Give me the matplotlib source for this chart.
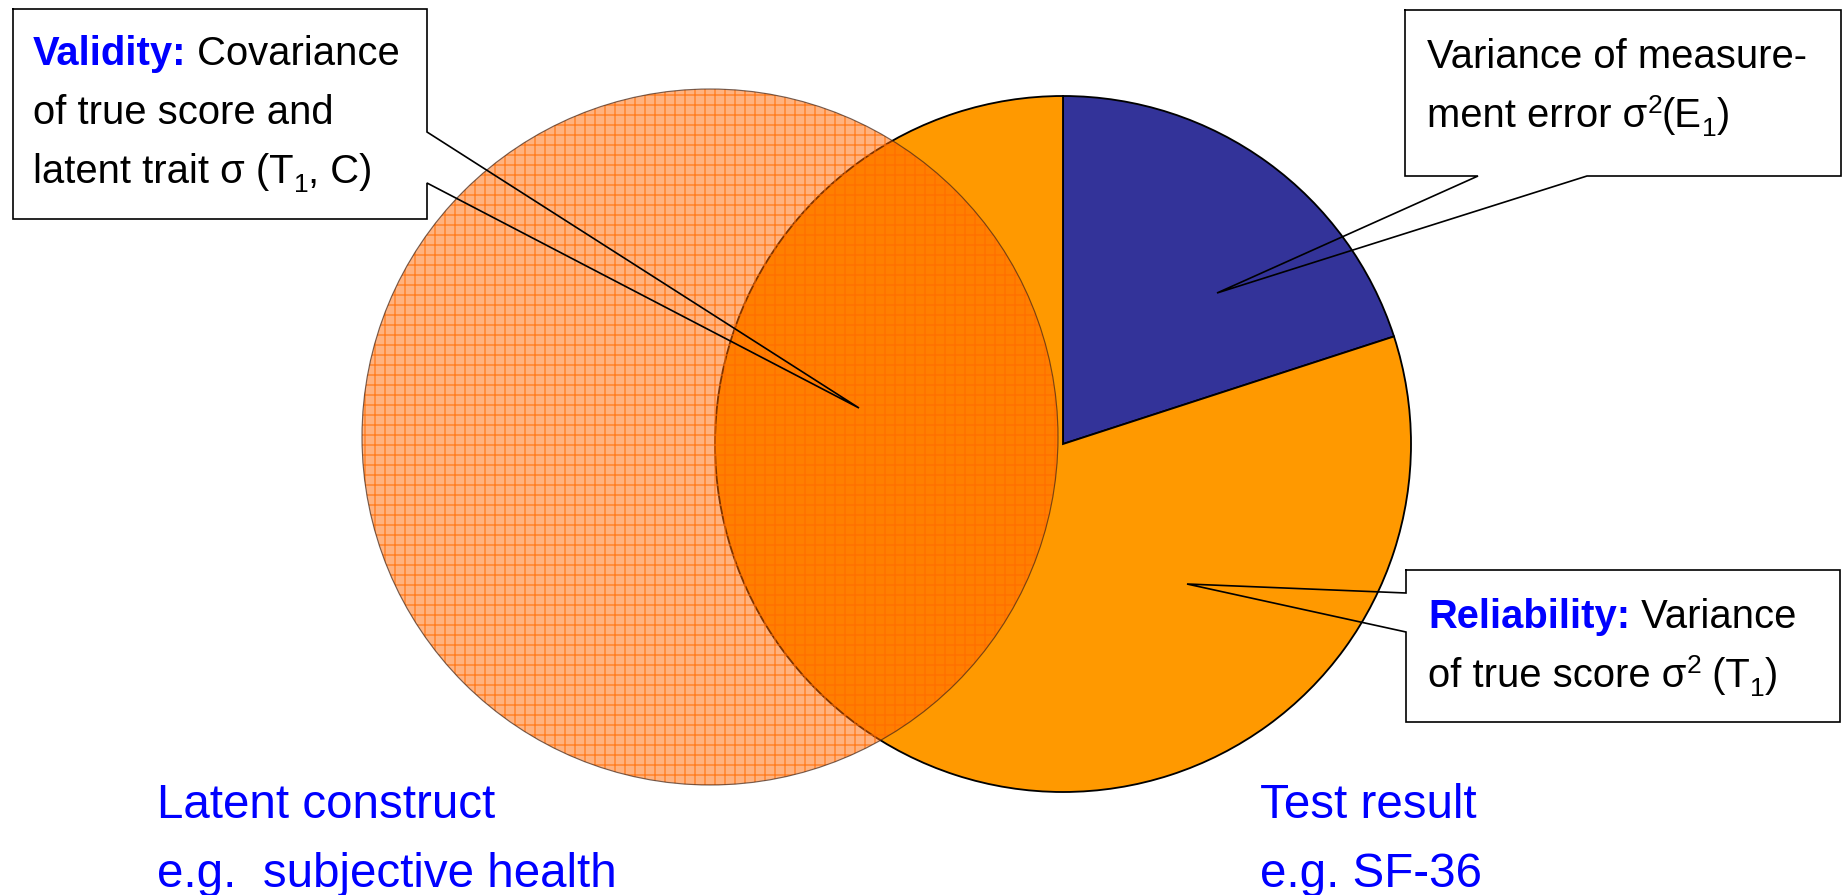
import matplotlib
matplotlib.use('Agg')
import matplotlib.pyplot as plt
from matplotlib.patches import Circle, Rectangle

plt.rcParams['font.family'] = ['Liberation Sans', 'DejaVu Sans']
plt.rcParams['hatch.linewidth'] = 0.8

# 测验结果的方差构成（%）
part_names = ['measurement error', 'true score']
part_share = [20, 80]
part_colors = ['#333399', '#FF9900']

# 底部标签
left_label = ['Latent construct', 'e.g.  subjective health']
right_label = ['Test result', 'e.g. SF-36']

BLUE = '#0000FF'
W, H, DPI = 1843, 895, 120

fig = plt.figure(figsize=(W / DPI, H / DPI), dpi=DPI)
ax = fig.add_axes([0, 0, 1, 1])

# 右侧饼图（y轴倒置，所以 counterclock=True 在屏幕上是顺时针）
ax.pie(part_share, colors=part_colors, startangle=-90, counterclock=True,
       center=(1063, 444), radius=348,
       wedgeprops=dict(edgecolor='black', linewidth=1.1))

# 左侧圆：半透明 + 网格
lc, lr = (710, 437), 348
ax.add_patch(Circle(lc, lr, facecolor=(1, 0.4, 0, 0.5), edgecolor='none', zorder=3))
ax.add_patch(Circle(lc, lr, facecolor='none', edgecolor=(1, 0.42, 0, 0.75),
                    hatch='++', linewidth=0, zorder=3))
ax.add_patch(Circle(lc, lr, facecolor='none', edgecolor=(0.25, 0.15, 0.1, 0.7),
                    linewidth=0.7, zorder=4))

ax.set_xlim(0, W)
ax.set_ylim(H, 0)
ax.set_aspect('auto')
ax.set_axis_off()


def callout(x0, y0, x1, y1, side, g0, g1, tip):
    """带指针的文本框"""
    ax.add_patch(Rectangle((x0, y0), x1 - x0, y1 - y0, facecolor='white',
                           edgecolor='none', zorder=5))
    pts = [(x0, y0), (x1, y0)]
    if side == 'right':
        pts += [(x1, g0), tip, (x1, g1)]
    pts += [(x1, y1)]
    if side == 'bottom':
        pts += [(g1, y1), tip, (g0, y1)]
    pts += [(x0, y1)]
    if side == 'left':
        pts += [(x0, g1), tip, (x0, g0)]
    pts += [(x0, y0)]
    xs, ys = zip(*pts)
    ax.plot(xs, ys, color='black', linewidth=1.0, zorder=6,
            solid_joinstyle='miter')


renderer = fig.canvas.get_renderer()


def runs(x, y, parts, size=24):
    """逐段写文字: (text, color, weight, scale, dy)"""
    for text, color, weight, scale, dy in parts:
        t = ax.text(x, y + dy, text, color=color, fontweight=weight,
                    fontsize=size * scale, ha='left', va='baseline', zorder=7)
        x += t.get_window_extent(renderer=renderer).width


def plain(text):
    return (text, 'black', 'normal', 1.0, 0)


def sub(text):
    return (text, 'black', 'normal', 0.66, 9)


def sup(text):
    return (text, 'black', 'normal', 0.66, -14)


# Validity
callout(13, 9, 427, 219, 'right', 132, 183, (859, 408))
runs(33, 65, [('Validity:', BLUE, 'bold', 1.0, 0), plain(' Covariance')])
runs(33, 124, [plain('of true score and')])
runs(33, 183, [plain('latent trait σ (T'), sub('1'), plain(', C)')])

# 测量误差
callout(1405, 10, 1841, 176, 'bottom', 1478, 1587, (1217, 293))
runs(1427, 68, [plain('Variance of measure-')])
runs(1427, 127, [plain('ment error σ'), sup('2'), plain('(E'), sub('1'), plain(')')])

# Reliability
callout(1406, 570, 1840, 722, 'left', 593, 632, (1187, 584))
runs(1428, 628, [('Reliability:', BLUE, 'bold', 1.0, 0), plain(' Variance')])
runs(1428, 687, [plain('of true score σ'), sup('2'), plain(' (T'), sub('1'), plain(')')])

# 底部蓝色标签
for i, (a, b) in enumerate(zip(left_label, right_label)):
    yb = 818 + 69 * i
    ax.text(157, yb, a, color=BLUE, fontsize=28.5, va='baseline', zorder=7)
    ax.text(1260, yb, b, color=BLUE, fontsize=28.5, va='baseline', zorder=7)

fig.savefig('out.png', dpi=DPI)
